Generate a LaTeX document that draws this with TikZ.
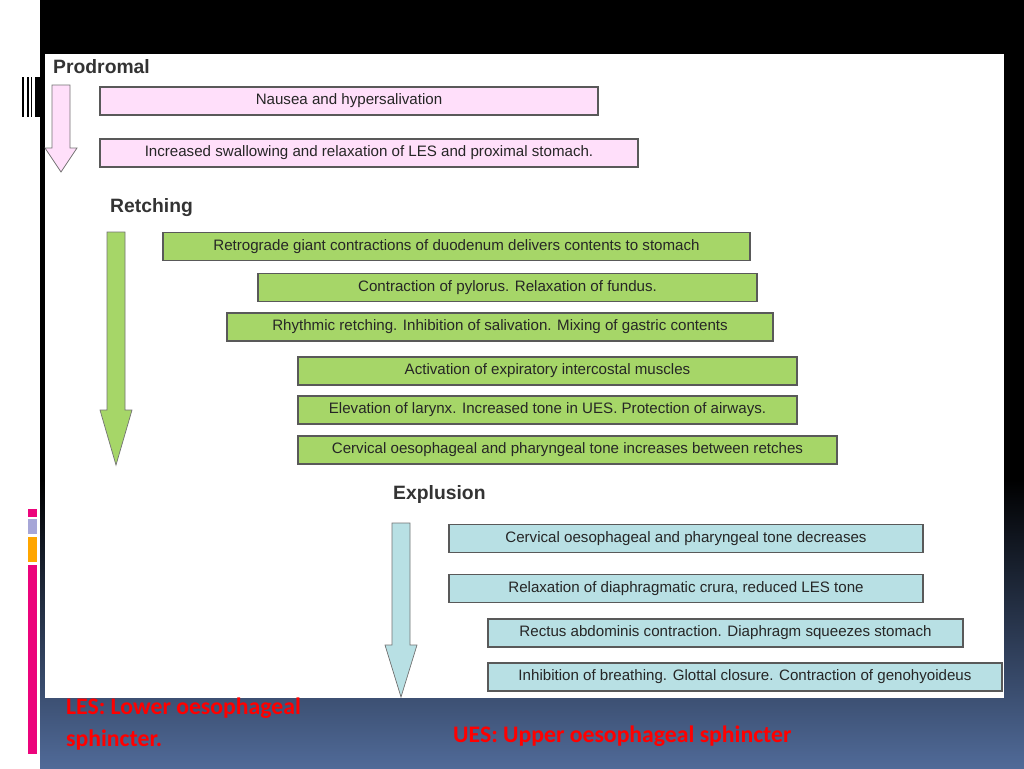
\documentclass[tikz,border=0pt]{standalone}
\usepackage{fontspec}
\setmainfont{Liberation Sans}
\newfontfamily\notefont{Carlito}
\begin{document}
\begin{tikzpicture}[x=0.02cm,y=-0.02cm,
  stepbox/.style={draw=black!65,line width=0.7pt,minimum height=0.56cm,inner sep=0pt,font=\fontsize{8.6}{10}\selectfont,text=black!85},
  pbox/.style={stepbox,fill=pink!40!magenta!18},
  gbox/.style={stepbox,fill=green!55!yellow!55!black!0,fill={rgb,255:red,166;green,214;blue,104}},
  bbox/.style={stepbox,fill={rgb,255:red,184;green,224;blue,228}},
  phase/.style={anchor=west,font=\bfseries\fontsize{11}{13}\selectfont,text=black!80},
  note/.style={anchor=west,font=\notefont\bfseries\fontsize{13.5}{16}\selectfont,text=red}]
\useasboundingbox (0,0) rectangle (1024,768);
% background
\fill[white] (0,0) rectangle (40,768);
\fill[black] (40,0) rectangle (1024,480);
\shade[top color=black,bottom color={rgb,255:red,80;green,106;blue,152}] (40,480) rectangle (1024,768);
\fill[white] (45,54) rectangle (1004,698);
% side bars
\fill[black] (22,77) rectangle (24,117);
\fill[black] (27,77) rectangle (29,117);
\fill[black] (31,77) rectangle (32,117);
\fill[black] (35,77) rectangle (40,117);
\fill[magenta!85!red] (28,509) rectangle (37,517);
\fill[black!45!blue!35] (28,519) rectangle (37,534);
\fill[orange!70!yellow] (28,537) rectangle (37,562);
\fill[magenta!85!red] (28,565) rectangle (37,754);
% prodromal
\node[phase] (prod) at (47,67) {Prodromal};
\draw[black!55,fill=pink!40!magenta!18] (52,85) -- (70,85) -- (70,148) -- (77,148) -- (61,172) -- (45,148) -- (52,148) -- cycle;
\node[pbox,minimum width=9.96cm] (p1) at (349,101) {Nausea and hypersalivation};
\node[pbox,minimum width=10.76cm] (p2) at (369,153) {Increased swallowing and relaxation of LES and proximal stomach.};
% retching
\node[phase] (retch) at (104,208) {Retching};
\draw[black!55,fill={rgb,255:red,166;green,214;blue,104}] (107,232) -- (125,232) -- (125,410) -- (132,410) -- (116,465) -- (100,410) -- (107,410) -- cycle;
\node[gbox,minimum width=11.74cm] (g1) at (456.5,246.5) {Retrograde giant contractions of duodenum delivers contents to stomach};
\node[gbox,minimum width=9.98cm] (g2) at (507.5,287.5) {Contraction of pylorus. Relaxation of fundus.};
\node[gbox,minimum width=10.92cm] (g3) at (500,327) {Rhythmic retching. Inhibition of salivation. Mixing of gastric contents};
\node[gbox,minimum width=9.98cm] (g4) at (547.5,371) {Activation of expiratory intercostal muscles};
\node[gbox,minimum width=9.98cm] (g5) at (547.5,410) {Elevation of larynx. Increased tone in UES. Protection of airways.};
\node[gbox,minimum width=10.78cm] (g6) at (567.5,450) {Cervical oesophageal and pharyngeal tone increases between retches};
% expulsion
\node[phase] (expl) at (387,494) {Explusion};
\draw[black!55,fill={rgb,255:red,184;green,224;blue,228}] (392,523) -- (410,523) -- (410,645) -- (417,645) -- (401,697) -- (385,645) -- (392,645) -- cycle;
\node[bbox,minimum width=9.48cm] (b1) at (686,538.5) {Cervical oesophageal and pharyngeal tone decreases};
\node[bbox,minimum width=9.48cm] (b2) at (686,588.5) {Relaxation of diaphragmatic crura, reduced LES tone};
\node[bbox,minimum width=9.5cm] (b3) at (725.5,633) {Rectus abdominis contraction. Diaphragm squeezes stomach};
\node[bbox,minimum width=10.28cm] (b4) at (745,677) {Inhibition of breathing. Glottal closure. Contraction of genohyoideus};
% notes
\node[note] (les1) at (60,708) {LES: Lower oesophageal};
\node[note] (les2) at (60,740) {sphincter.};
\node[note] (ues) at (447,736) {UES: Upper oesophageal sphincter};
\end{tikzpicture}
\end{document}
